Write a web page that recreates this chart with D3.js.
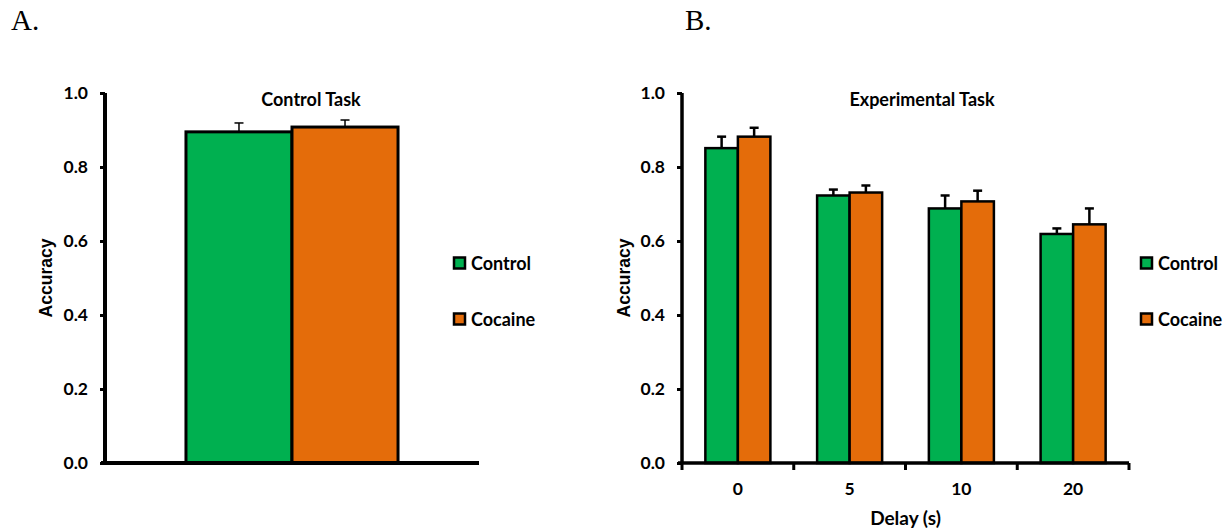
<!DOCTYPE html>
<html>
<head>
<meta charset="utf-8">
<script src="https://cdn.jsdelivr.net/npm/d3@7"></script>
<style>
  html, body { margin: 0; padding: 0; background: #fff; }
  svg { display: block; }
</style>
</head>
<body>
<svg id="chart" width="1230" height="531"></svg>
<script>
// ---------- DATA ----------
const seriesNames = ["Control", "Cocaine"];
const seriesColors = ["#00B050", "#E46C0A"];
const yTicks = [0, 0.2, 0.4, 0.6, 0.8, 1.0];

// Panel A: Control Task
const taskA = ["Control Task"];
const controlA = [0.895];
const cocaineA = [0.908];
const controlAErr = [0.024];
const cocaineAErr = [0.019];

// Panel B: Experimental Task
const delays = ["0", "5", "10", "20"];
const controlB = [0.851, 0.723, 0.688, 0.619];
const cocaineB = [0.882, 0.731, 0.707, 0.645];
const controlBErr = [0.031, 0.016, 0.035, 0.015];
const cocaineBErr = [0.024, 0.019, 0.029, 0.043];

// ---------- DRAW ----------
const svg = d3.select("#chart");
const tickFont = "Lato, 'Open Sans', sans-serif";
const axisTitleFont = "'Liberation Sans', Arial, sans-serif";

function panel(opts) {
  const { cats, vals, errs, x0, x1, yTop, yBot, pad, title, titleX, letter, letterX,
          xTicks, xTitle, legendX, axisW, barW, errW, ylabX } = opts;
  const g = svg.append("g");
  const y = d3.scaleLinear().domain([0, 1]).range([yBot, yTop]);
  const x = d3.scaleBand().domain(cats).range([x0, x1])
    .paddingInner(pad).paddingOuter(pad / 2).align(0.5);
  const xs = d3.scaleBand().domain(seriesNames).range([0, x.bandwidth()]).padding(0);

  // panel letter
  svg.append("text").attr("x", letterX).attr("y", 30)
    .attr("font-family", "'Liberation Serif', 'Times New Roman', serif")
    .attr("font-size", 29).attr("fill", "#000").text(letter);

  // bars
  seriesNames.forEach((s, si) => {
    const data = cats.map((c, i) => ({ c, v: vals[si][i], e: errs[si][i] }));
    const eg = g.append("g");
    data.forEach(d => {
      const cx = x(d.c) + xs(s) + xs.bandwidth() / 2;
      eg.append("line").attr("x1", cx).attr("x2", cx)
        .attr("y1", y(d.v)).attr("y2", y(d.v + d.e))
        .attr("stroke", "#000").attr("stroke-width", errW);
      eg.append("line").attr("x1", cx - 4.5).attr("x2", cx + 4.5)
        .attr("y1", y(d.v + d.e)).attr("y2", y(d.v + d.e))
        .attr("stroke", "#000").attr("stroke-width", errW);
    });
    g.append("g").selectAll("rect").data(data).join("rect")
      .attr("x", d => x(d.c) + xs(s))
      .attr("y", d => y(d.v))
      .attr("width", xs.bandwidth())
      .attr("height", d => y(0) - y(d.v))
      .attr("fill", seriesColors[si])
      .attr("stroke", "#000").attr("stroke-width", barW);
  });

  // y axis
  const ya = g.append("g").attr("transform", `translate(${x0},0)`)
    .call(d3.axisLeft(y).tickValues(yTicks).tickFormat(d3.format(".1f")).tickSize(5).tickPadding(12));
  ya.select(".domain").attr("stroke-width", axisW).attr("d", `M0,${yTop}V${yBot}`);
  ya.selectAll(".tick line").attr("stroke-width", 3);
  ya.selectAll("text").attr("font-family", tickFont).attr("font-weight", "bold")
    .attr("font-size", 17.5).attr("fill", "#000");

  // x axis
  const xa = g.append("g").attr("transform", `translate(0,${yBot})`);
  xa.append("line").attr("x1", x0 - 4).attr("x2", x1).attr("y1", 0).attr("y2", 0)
    .attr("stroke", "#000").attr("stroke-width", axisW);
  if (xTicks) {
    const bounds = cats.map(c => x(c) - x.step() * x.paddingInner() / 2);
    bounds.push(x1);
    bounds.forEach(bx => {
      xa.append("line").attr("x1", bx).attr("x2", bx).attr("y1", 0).attr("y2", 7)
        .attr("stroke", "#000").attr("stroke-width", 3);
    });
    const xaxis = d3.axisBottom(x).tickSize(0).tickPadding(20);
    const xg = g.append("g").attr("transform", `translate(0,${yBot})`).call(xaxis);
    xg.select(".domain").remove();
    xg.selectAll("text").attr("font-family", tickFont).attr("font-weight", "bold")
      .attr("font-size", 17.5).attr("fill", "#000");
  }
  if (xTitle) {
    g.append("text").attr("x", (x0 + x1) / 2).attr("y", 525).attr("text-anchor", "middle")
      .attr("font-family", tickFont).attr("font-weight", "bold").attr("font-size", 19)
      .attr("fill", "#000").text(xTitle);
  }

  // y axis title
  g.append("text")
    .attr("transform", `translate(${ylabX},${(yTop + yBot) / 2}) rotate(-90)`)
    .attr("text-anchor", "middle")
    .attr("font-family", axisTitleFont).attr("font-weight", "bold").attr("font-size", 17.5)
    .attr("fill", "#000").text("Accuracy");

  // chart title
  g.append("text").attr("x", titleX).attr("y", 106).attr("text-anchor", "middle")
    .attr("font-family", tickFont).attr("font-weight", "bold").attr("font-size", 18)
    .attr("fill", "#000").text(title);

  // legend
  const lg = g.append("g");
  seriesNames.forEach((s, si) => {
    const ly = 263 + si * 56;
    lg.append("rect").attr("x", legendX).attr("y", ly - 5.5).attr("width", 11).attr("height", 11)
      .attr("fill", seriesColors[si]).attr("stroke", "#000").attr("stroke-width", 2.5);
    lg.append("text").attr("x", legendX + 17).attr("y", ly + 6.5)
      .attr("font-family", tickFont).attr("font-weight", "bold").attr("font-size", 18)
      .attr("fill", "#000").text(s);
  });
}

panel({
  cats: taskA, vals: [controlA, cocaineA], errs: [controlAErr, cocaineAErr],
  x0: 105, x1: 479, yTop: 93, yBot: 463, pad: 0.433,
  title: taskA[0], titleX: 311, letter: "A.", letterX: 11,
  xTicks: false, xTitle: null, legendX: 454, axisW: 4, barW: 3, errW: 1.5, ylabX: 52
});

panel({
  cats: delays, vals: [controlB, cocaineB], errs: [controlBErr, cocaineBErr],
  x0: 682, x1: 1129, yTop: 93, yBot: 463, pad: 0.418,
  title: "Experimental Task", titleX: 922, letter: "B.", letterX: 685,
  xTicks: true, xTitle: "Delay (s)", legendX: 1141, axisW: 3.5, barW: 2.5, errW: 2.5, ylabX: 630
});
</script>
</body>
</html>
